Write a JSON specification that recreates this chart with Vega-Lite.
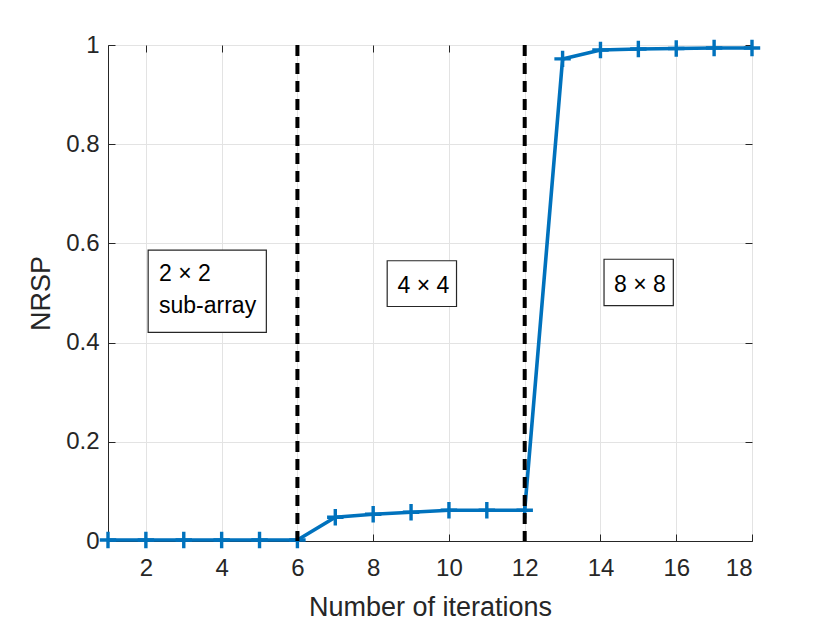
{
  "$schema": "https://vega.github.io/schema/vega-lite/v6.json",
  "width": 644,
  "height": 496,
  "autosize": {"type": "none"},
  "padding": {"left": 108, "top": 45, "right": 78, "bottom": 82},
  "background": "white",
  "config": {
    "font": "Liberation Sans",
    "view": {"stroke": "#262626", "strokeWidth": 1},
    "axis": {
      "labelFont": "Liberation Sans",
      "titleFont": "Liberation Sans",
      "labelFontSize": 24,
      "titleFontSize": 27,
      "titleFontWeight": "normal",
      "labelColor": "#262626",
      "titleColor": "#262626",
      "domainColor": "#262626",
      "tickColor": "#262626",
      "tickSize": -7,
      "gridColor": "#e3e3e3",
      "gridWidth": 1
    }
  },
  "resolve": {"axis": {"x": "independent", "y": "independent"}},
  "layer": [
    {
      "data": {"values": [
        {"it": 1, "nrsp": 0.002}, {"it": 2, "nrsp": 0.002}, {"it": 3, "nrsp": 0.002},
        {"it": 4, "nrsp": 0.002}, {"it": 5, "nrsp": 0.002}, {"it": 6, "nrsp": 0.002},
        {"it": 7, "nrsp": 0.048}, {"it": 8, "nrsp": 0.054}, {"it": 9, "nrsp": 0.058},
        {"it": 10, "nrsp": 0.062}, {"it": 11, "nrsp": 0.062}, {"it": 12, "nrsp": 0.062},
        {"it": 13, "nrsp": 0.972}, {"it": 14, "nrsp": 0.99}, {"it": 15, "nrsp": 0.992},
        {"it": 16, "nrsp": 0.993}, {"it": 17, "nrsp": 0.994}, {"it": 18, "nrsp": 0.994}
      ]},
      "encoding": {
        "x": {"field": "it", "type": "quantitative", "scale": {"domain": [1, 18], "nice": false, "zero": false},
          "axis": {"values": [2, 4, 6, 8, 10, 12, 14, 16, 18], "title": "Number of iterations", "titlePadding": 14, "labelPadding": 22, "grid": true}},
        "y": {"field": "nrsp", "type": "quantitative", "scale": {"domain": [0, 1], "nice": false},
          "axis": {"values": [0, 0.2, 0.4, 0.6, 0.8, 1], "format": "~g", "title": "NRSP", "titlePadding": 10, "labelPadding": 16, "grid": true}}
      },
      "layer": [
        {
          "mark": {"type": "line", "color": "#0072BD", "strokeWidth": 3.6, "clip": false}
        },
        {
          "mark": {"type": "point", "shape": "M-1,0H1M0,-1V1", "size": 270, "stroke": "#0072BD", "strokeWidth": 3.4, "filled": false, "opacity": 1, "clip": false}
        }
      ]
    },
    {
      "data": {"values": [{"xv": 6}, {"xv": 12}]},
      "mark": {"type": "rule", "color": "black", "strokeWidth": 4, "strokeDash": [11, 7]},
      "encoding": {
        "x": {"field": "xv", "type": "quantitative", "axis": null}
      }
    },
    {
      "data": {"values": [
        {"x1": 2.06, "x2": 5.18, "y1": 0.4205, "y2": 0.5866},
        {"x1": 8.37, "x2": 10.2, "y1": 0.4728, "y2": 0.565},
        {"x1": 14.094, "x2": 15.923, "y1": 0.4744, "y2": 0.568}
      ]},
      "mark": {"type": "rect", "fill": "white", "stroke": "#262626", "strokeWidth": 1.2},
      "encoding": {
        "x": {"field": "x1", "type": "quantitative",
          "axis": {"orient": "top", "values": [2, 4, 6, 8, 10, 12, 14, 16, 18], "labels": false, "title": null, "domain": false, "grid": false}},
        "x2": {"field": "x2"},
        "y": {"field": "y1", "type": "quantitative",
          "axis": {"orient": "right", "values": [0, 0.2, 0.4, 0.6, 0.8, 1], "labels": false, "title": null, "domain": false, "grid": false}},
        "y2": {"field": "y2"}
      }
    },
    {
      "data": {"values": [
        {"tx": 2.346, "ty": 0.5248, "label": "2 × 2"},
        {"tx": 2.346, "ty": 0.4603, "label": "sub-array"},
        {"tx": 8.645, "ty": 0.5006, "label": "4 × 4"},
        {"tx": 14.36, "ty": 0.5026, "label": "8 × 8"}
      ]},
      "mark": {"type": "text", "align": "left", "baseline": "alphabetic", "fontSize": 23, "color": "black", "font": "Liberation Sans"},
      "encoding": {
        "x": {"field": "tx", "type": "quantitative", "axis": null},
        "y": {"field": "ty", "type": "quantitative", "axis": null},
        "text": {"field": "label"}
      }
    }
  ]
}
